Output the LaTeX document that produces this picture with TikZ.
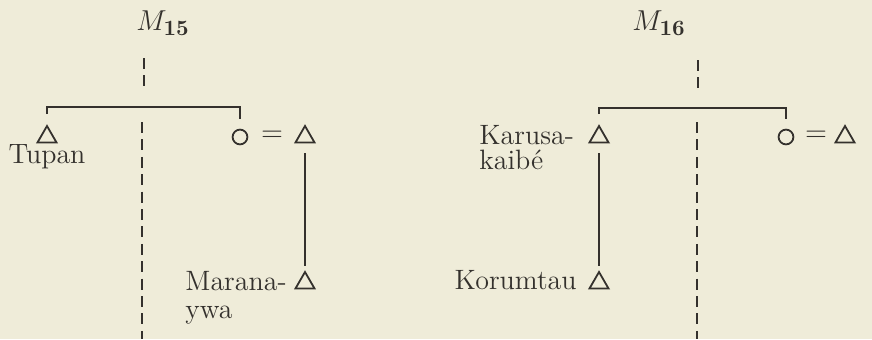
\documentclass[tikz,border=0pt]{standalone}
\usepackage{tikz}
\usetikzlibrary{shapes.geometric}
\definecolor{paper}{RGB}{239,236,217}
\definecolor{ink}{RGB}{52,49,45}
\tikzset{
  male/.style={regular polygon, regular polygon sides=3, draw=ink, line width=0.9pt,
               minimum size=11pt, inner sep=0pt},
  female/.style={circle, draw=ink, line width=0.9pt, minimum size=7.4pt, inner sep=0pt},
  kin/.style={draw=ink, line width=0.7pt},
  descent/.style={draw=ink, line width=0.6pt},
  divide/.style={draw=ink, line width=0.95pt, dash pattern=on 5.5pt off 3.2pt},
  lbl/.style={text=ink, font=\fontsize{14pt}{11.5pt}\selectfont, inner sep=0pt},
  lbltwo/.style={lbl, align=left, anchor=north west},
}
\begin{document}
\begin{tikzpicture}[x=0.5pt, y=-0.5pt]
  \fill[paper] (0,0) rectangle (872,339);
  \useasboundingbox (0,0) rectangle (872,339);

  % ---- left group, M15 ----
  \node[lbl] (mA) at (163,23) {\fontsize{15pt}{15pt}\selectfont$M_{\mathbf{15}}$};
  \coordinate (mAtop) at (144,58);
  \coordinate (mAbot) at (144,92);
  \draw[divide] (mAtop) -- (mAbot);

  \node[male]   (tupan)  at (47,137) {};
  \node[lbl, anchor=base] (tupanL) at (47,163) {Tupan};
  \node[female] (wifeA)  at (240,137) {};
  \node[lbl] (eqA) at (272,136) {$=$};
  \node[male]   (husbA)  at (305,137) {};
  \node[male]   (marana) at (305,283) {};
  \node[lbltwo] (maranaL) at (185,271) {Marana-\\[2.5pt]ywa};

  \coordinate (barA) at (144,107);
  \draw[kin] ([yshift=5pt]tupan.north) |- (barA) -| ([yshift=5pt]wifeA.north);
  \draw[descent] ([yshift=-5pt]husbA.south) -- ([yshift=2pt]marana.north);

  \coordinate (divAtop) at (142,122);
  \coordinate (divAbot) at (142,339);
  \draw[divide] (divAtop) -- (divAbot);

  % ---- right group, M16 ----
  \node[lbl] (mB) at (659,23) {\fontsize{15pt}{15pt}\selectfont$M_{\mathbf{16}}$};
  \coordinate (mBtop) at (698,60);
  \coordinate (mBbot) at (698,92);
  \draw[divide] (mBtop) -- (mBbot);

  \node[male]   (karusa) at (599,137) {};
  \node[lbltwo] (karusaL) at (479,125) {Karusa-\\[1pt]kaib\'e};
  \node[female] (wifeB)  at (786,137) {};
  \node[lbl] (eqB) at (816,136) {$=$};
  \node[male]   (husbB)  at (845,137) {};
  \node[male]   (korum)  at (599,283) {};
  \node[lbl, anchor=base east] (korumL) at (577,289) {Korumtau};

  \coordinate (barB) at (698,108);
  \draw[kin] ([yshift=5pt]karusa.north) |- (barB) -| ([yshift=5pt]wifeB.north);
  \draw[descent] ([yshift=-5pt]karusa.south) -- ([yshift=2pt]korum.north);

  \coordinate (divBtop) at (697,122);
  \coordinate (divBbot) at (697,339);
  \draw[divide] (divBtop) -- (divBbot);
\end{tikzpicture}
\end{document}
